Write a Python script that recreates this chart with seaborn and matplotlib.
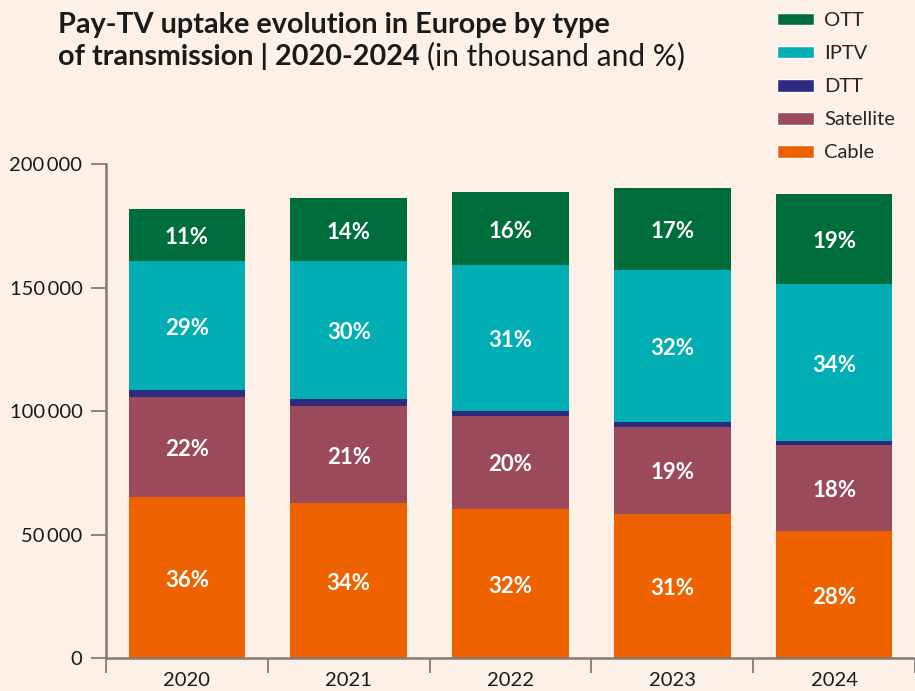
import numpy as np
import pandas as pd
import matplotlib
matplotlib.use("Agg")
import matplotlib.pyplot as plt
from matplotlib.patches import Patch
from matplotlib.ticker import FuncFormatter, FixedLocator
import seaborn as sns

# --- данни (хиляди абонати) ---
years = ["2020", "2021", "2022", "2023", "2024"]
cable = [65300, 63000, 60600, 58500, 51600]
satellite = [40400, 39100, 37500, 35200, 34800]
dtt = [2900, 2900, 2100, 2100, 1600]
iptv = [52200, 55800, 58900, 61300, 63500]
ott = [21000, 25500, 29600, 33200, 36400]

cable_pct = ["36%", "34%", "32%", "31%", "28%"]
satellite_pct = ["22%", "21%", "20%", "19%", "18%"]
iptv_pct = ["29%", "30%", "31%", "32%", "34%"]
ott_pct = ["11%", "14%", "16%", "17%", "19%"]

series = ["Cable", "Satellite", "DTT", "IPTV", "OTT"]
colors = {"Cable": "#EE6300", "Satellite": "#9B4A5C", "DTT": "#2E2A80",
          "IPTV": "#00AEB3", "OTT": "#006E3C"}
BG = "#FDF0E6"
AXIS = "#857B75"

df = pd.DataFrame({"year": years, "Cable": cable, "Satellite": satellite,
                   "DTT": dtt, "IPTV": iptv, "OTT": ott})
cum = df[series].cumsum(axis=1)
bottoms = cum - df[series]

sns.set_style("white")
plt.rcParams["font.family"] = ["Lato", "DejaVu Sans"]

fig = plt.figure(figsize=(9.15, 6.91), dpi=100, facecolor=BG)
ax = fig.add_axes([106 / 915, 1 - 658.3 / 691, 809 / 915, (658.3 - 164) / 691])
ax.set_facecolor(BG)

# стекове: рисуваме кумулативните суми отгоре надолу
for s in reversed(series):
    sns.barplot(x=df["year"], y=cum[s], color=colors[s], width=0.72,
                saturation=1, ax=ax, linewidth=0)

# етикети с проценти
labels = {"Cable": cable_pct, "Satellite": satellite_pct,
          "IPTV": iptv_pct, "OTT": ott_pct}
for s, pcts in labels.items():
    for i, p in enumerate(pcts):
        y = bottoms[s][i] + df[s][i] / 2
        ax.annotate(p, (i, y), xytext=(0, -2), textcoords="offset points",
                    ha="center", va="center", color="white",
                    fontsize=16, fontweight="bold")

ax.set_xlim(-0.5, 4.5)
ax.set_ylim(0, 200000)
ax.set_yticks([0, 50000, 100000, 150000, 200000])
ax.yaxis.set_major_formatter(FuncFormatter(
    lambda v, _: f"{int(v):,}".replace(",", "\u2009")))
ax.set_xlabel("")
ax.set_ylabel("")

for side in ["top", "right"]:
    ax.spines[side].set_visible(False)
for side in ["left", "bottom"]:
    ax.spines[side].set_color(AXIS)
    ax.spines[side].set_linewidth(1.8)

ax.tick_params(axis="y", direction="out", length=11, width=1.3, color=AXIS,
               labelsize=14.5, labelcolor="#1a1a1a", pad=6, left=True)
ax.tick_params(axis="x", which="major", length=0, labelsize=14.5,
               labelcolor="#1a1a1a", pad=10)
ax.xaxis.set_minor_locator(FixedLocator(np.arange(-0.5, 5, 1.0)))
ax.tick_params(axis="x", which="minor", direction="out", length=11,
               width=1.3, color=AXIS, bottom=True)

# легенда
handles = [Patch(facecolor=colors[s], label=s) for s in reversed(series)]
fig.legend(handles=handles, loc="upper left",
           bbox_to_anchor=(777 / 915, 1 - 12 / 691), frameon=False,
           fontsize=14.5, handlelength=1.85, handleheight=0.6,
           handletextpad=0.5, labelspacing=0.8, borderpad=0,
           borderaxespad=0)

# заглавие
fig.text(58 / 915, 1 - 33 / 691, "Pay-TV uptake evolution in Europe by type",
         fontsize=20.7, fontweight="bold", color="#1a1a1a", va="baseline")
t2 = fig.text(58 / 915, 1 - 65 / 691, "of transmission | 2020-2024",
              fontsize=20.7, fontweight="bold", color="#1a1a1a", va="baseline")
fig.canvas.draw()
bb = t2.get_window_extent()
fig.text((bb.x1 + 7) / 915, 1 - 65 / 691, "(in thousand and %)",
         fontsize=21.5, color="#1a1a1a", va="baseline")

fig.savefig("out.png", dpi=100, facecolor=BG)
